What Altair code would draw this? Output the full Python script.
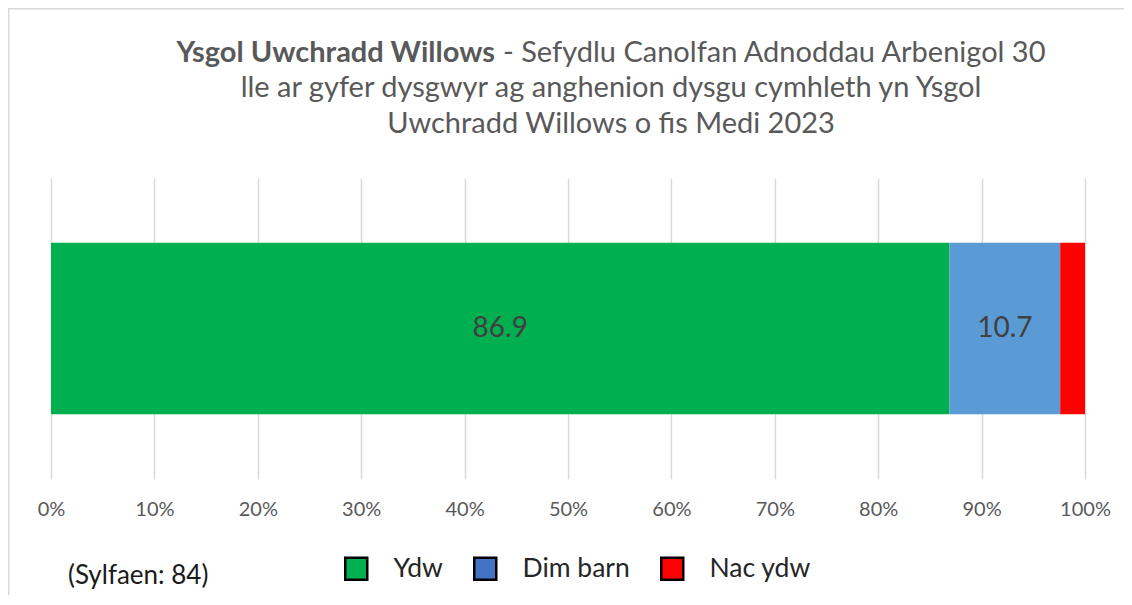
import altair as alt
import pandas as pd

# ---- data ----
row_name = ["Willows"]
categories = ["Ydw", "Dim barn", "Nac ydw"]
values = [86.9, 10.7, 2.4]
stack_order = [0, 1, 2]
bar_colors = ["#00B050", "#5B9BD5", "#FF0000"]
legend_colors = ["#00B050", "#4472C4", "#FF0000"]
tick_values = [0, 10, 20, 30, 40, 50, 60, 70, 80, 90, 100]

title_bold = "Ysgol Uwchradd Willows"
title_rest = "- Sefydlu Canolfan Adnoddau Arbenigol 30"
title_line2 = "lle ar gyfer dysgwyr ag anghenion dysgu cymhleth yn Ysgol"
title_line3 = "Uwchradd Willows o fis Medi 2023"
base_note = "(Sylfaen: 84)"

df = pd.DataFrame({
    "row": row_name * len(categories),
    "category": categories,
    "value": values,
    "order": stack_order,
})

FONT = "Lato"
W, H = 1034, 301

y_enc = alt.Y("row:N", axis=None,
              scale=alt.Scale(paddingInner=0, paddingOuter=0.378))

x_scale = alt.Scale(domain=[0, 100], nice=False)
x_axis = alt.Axis(
    title=None, values=tick_values, labelExpr="datum.value + '%'",
    grid=True, gridColor="#D9D9D9", gridWidth=1.5,
    domain=False, ticks=False, labelFont=FONT, labelFontSize=20,
    labelColor="#595959", labelPadding=20, labelFlush=False,
)


def stacked(chart):
    return chart.transform_stack(
        stack="value", groupby=["row"], as_=["v0", "v1"],
        sort=[alt.SortField("order", order="ascending")]
    ).transform_calculate(mid="(datum.v0 + datum.v1) / 2")


# border around the chart (decoration)
border = alt.Chart(pd.DataFrame({"a": [0]})).mark_rect(
    fill="transparent", stroke="#D9D9D9", strokeWidth=1.5
).encode(
    x=alt.value(-42.25), x2=alt.value(W + 80),
    y=alt.value(-169.25), y2=alt.value(H + 200)
)

# hidden layer that only supplies the legend (legend swatch colours)
legend_layer = stacked(alt.Chart(df)).mark_square(
    size=1, stroke="black", strokeWidth=2.5, opacity=1
).encode(
    x=alt.X("mid:Q", scale=x_scale, axis=x_axis),
    y=y_enc,
    fill=alt.Fill(
        "category:N",
        scale=alt.Scale(domain=categories, range=legend_colors),
        legend=alt.Legend(
            title=None, orient="none", legendX=292, legendY=377,
            direction="horizontal", symbolType="square", symbolSize=484,
            symbolStrokeColor="black", symbolStrokeWidth=2.5,
            labelFont=FONT, labelFontSize=26.5, labelColor="#262626",
            labelOffset=24, columnPadding=26, padding=0,
        ),
    ),
)

bars = alt.Chart(df).mark_bar().encode(
    x=alt.X("value:Q", stack="zero", scale=x_scale, axis=x_axis),
    y=y_enc,
    color=alt.Color("category:N",
                    scale=alt.Scale(domain=categories, range=bar_colors),
                    legend=None),
    order=alt.Order("order:Q"),
)

labels = stacked(alt.Chart(df)).transform_filter("datum.value >= 5").mark_text(
    font=FONT, fontSize=28, color="#404040", baseline="middle"
).encode(
    x=alt.X("mid:Q", scale=x_scale, axis=x_axis),
    y=y_enc,
    text=alt.Text("value:Q", format=".1f"),
)


def text_layer(s, x, y, align, weight, size, color):
    return alt.Chart(pd.DataFrame({"t": [s]})).mark_text(
        align=align, baseline="alphabetic", font=FONT, fontSize=size,
        fontWeight=weight, color=color
    ).encode(text="t:N", x=alt.value(x), y=alt.value(y))


TS = 29
t1a = text_layer(title_bold, 444, -116, "right", "bold", TS, "#595959")
t1b = text_layer(title_rest, 452, -116, "left", "normal", TS, "#595959")
t2 = text_layer(title_line2, 560, -81, "center", "normal", TS, "#595959")
t3 = text_layer(title_line3, 560, -45, "center", "normal", TS, "#595959")
note = text_layer(base_note, 17, 406, "left", "normal", 26, "#1a1a1a")

chart = alt.layer(
    border, legend_layer, bars, labels, t1a, t1b, t2, t3, note
).properties(
    width=W, height=H,
    autosize=alt.AutoSizeParams(type="none"),
    padding={"left": 43, "top": 170, "right": 39, "bottom": 116},
).configure(
    font=FONT,
    view=alt.ViewConfig(stroke="transparent", strokeWidth=0),
)

chart.save("out.html", embed_options={"renderer": "svg", "actions": False})
